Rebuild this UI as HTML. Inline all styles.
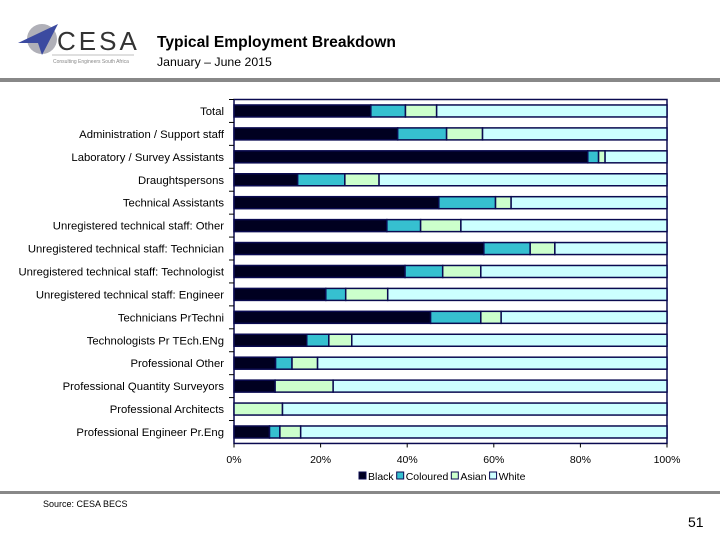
<!DOCTYPE html>
<html><head><meta charset="utf-8"><style>
body{margin:0;background:#fff;}
svg text{font-family:"Liberation Sans",sans-serif;}
</style></head><body>
<svg width="720" height="540" xmlns="http://www.w3.org/2000/svg">
<g>
  <circle cx="42" cy="39" r="15" fill="#b0b0b8"/>
  <polygon points="18,43 58,24 42,55 38,43" fill="#3b4aa0"/>
  <text x="57" y="50" font-size="26" fill="#333" font-family="Liberation Serif,serif" letter-spacing="3">CESA</text>
  <line x1="52" y1="55" x2="134" y2="55" stroke="#aaa" stroke-width="0.7"/>
  <text x="53" y="63" font-size="5" fill="#888">Consulting Engineers South Africa</text>
</g>
<text x="157" y="47" font-size="15.6" font-weight="bold" fill="#000">Typical Employment Breakdown</text>
<text x="157" y="66" font-size="12.3" fill="#000">January – June 2015</text>
<rect x="0" y="78" width="720" height="4" fill="#888"/>
<rect x="0" y="491" width="720" height="3" fill="#888"/>
<text x="43" y="507" font-size="9" fill="#000">Source: CESA BECS</text>
<text x="688" y="527" font-size="14" fill="#000">51</text>
<g id="chart"></g>
</svg>
<script>
const categories=["Total","Administration / Support staff","Laboratory / Survey Assistants","Draughtspersons","Technical Assistants","Unregistered technical staff: Other","Unregistered technical staff: Technician","Unregistered technical staff: Technologist","Unregistered technical staff: Engineer","Technicians PrTechni","Technologists Pr TEch.ENg","Professional Other","Professional Quantity Surveyors","Professional Architects","Professional Engineer Pr.Eng"];
const black=[31.6,37.8,81.7,14.7,47.3,35.3,57.7,39.5,21.2,45.4,16.8,9.6,9.5,0,8.2];
const coloured=[8.0,11.3,2.5,10.9,13.1,7.8,10.7,8.7,4.6,11.6,5.1,3.8,0,0,2.4];
const asian=[7.2,8.3,1.5,7.9,3.6,9.3,5.7,8.8,9.7,4.7,5.3,5.9,13.4,11.2,4.8];
const white=[53.2,42.6,14.3,66.5,36.0,47.6,25.9,43.0,64.5,38.3,72.8,80.7,77.1,88.8,84.6];
const seriesNames=["Black","Coloured","Asian","White"];
const xTicks=["0%","20%","40%","60%","80%","100%"];
const colors=["#000020","#36c0d0","#ccffcc","#ccffff"];
const NS="http://www.w3.org/2000/svg";
const g=document.getElementById("chart");
const X0=234,X1=667,Y0=99.5,band=22.93;
const xs=v=>X0+(X1-X0)*v/100;
const yc=i=>Y0+band*(i+0.5);
function mk(t,a){const e=document.createElementNS(NS,t);for(const k in a)e.setAttribute(k,a[k]);g.appendChild(e);return e;}
let fr=mk("rect",{x:X0,y:Y0,width:X1-X0,height:band*15,fill:"#fff",stroke:"#0a0a50","stroke-width":1.5});


const series=[black,coloured,asian,white];
categories.forEach((c,i)=>{
  const t=mk("text",{x:224,y:yc(i)+4,"font-size":11.3,"text-anchor":"end",fill:"#000"});
  t.textContent=c;
  
  
  const tk=mk("line",{x1:X0-5,x2:X0,y1:Y0+band*i,y2:Y0+band*i,stroke:"#000"});
  
  
  let acc=0;
  series.forEach((s,k)=>{
    const v=s[i];
    if(v>0){
      const r=mk("rect",{x:xs(acc),y:yc(i)-6,width:xs(acc+v)-xs(acc),height:12,fill:colors[k],stroke:"#0a0a50","stroke-width":1.5});
      
      
    }
    acc+=v;
  });
});
xTicks.forEach((l,j)=>{
  const x=X0+(X1-X0)*j/(xTicks.length-1);
  const tk=mk("line",{x1:x,x2:x,y1:Y0+band*15,y2:Y0+band*15+4,stroke:"#000"});
  
  
  const t=mk("text",{x:x,y:463,"font-size":10.5,"text-anchor":"middle",fill:"#000"});
  t.textContent=l;
  
  
});
let lx=359;
seriesNames.forEach((n,k)=>{
  const r=mk("rect",{x:lx,y:472,width:7,height:7,fill:colors[k],stroke:"#0a0a50","stroke-width":1});
  
  
  const t=mk("text",{x:lx+9,y:480,"font-size":10.5,fill:"#000"});
  t.textContent=n;
  
  
  lx+=9+t.getComputedTextLength()+3;
});
</script>
</body></html>
